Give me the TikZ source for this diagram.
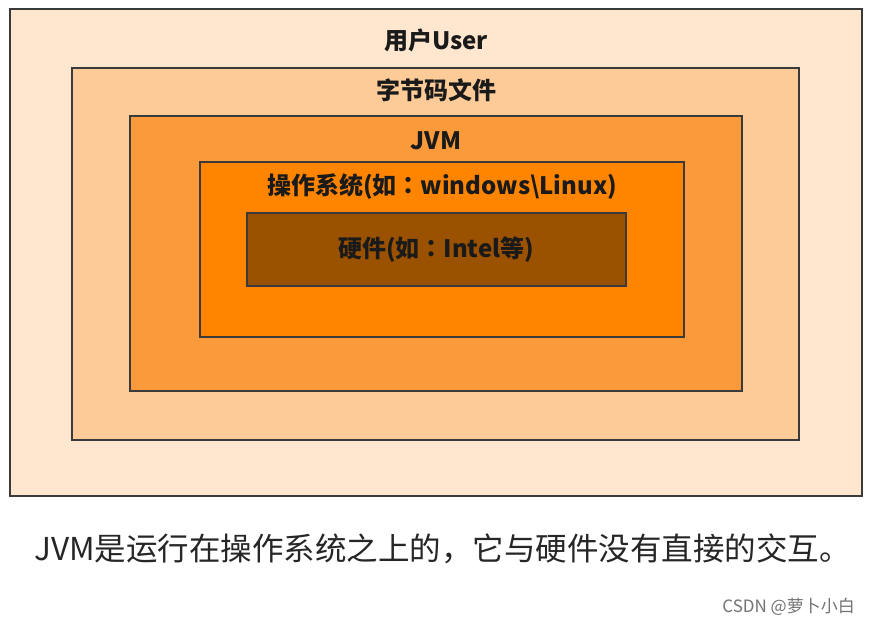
\documentclass[tikz,border=0pt]{standalone}
\usepackage{fontspec}
\setmainfont{Noto Sans CJK SC}
\newfontfamily\tcfont{Noto Sans CJK TC}
\newcommand{\fwcolon}{{\tcfont ：}}
\definecolor{c1}{HTML}{FEE6CF}
\definecolor{c2}{HTML}{FDCB98}
\definecolor{c3}{HTML}{FB9A3B}
\definecolor{c4}{HTML}{FF8400}
\definecolor{c5}{HTML}{9A5100}
\definecolor{edge}{HTML}{3A3A3A}
\definecolor{txt}{HTML}{1A1A1A}
\begin{document}
\begin{tikzpicture}[x=1pt,y=-1pt,
  layer/.style={draw=edge,line width=1.6pt},
  lbl/.style={font=\bfseries\fontsize{24}{28}\selectfont,text=txt,inner sep=0pt}]
\useasboundingbox (0,0) rectangle (869,627);
\fill[white] (0,0) rectangle (869,627);
\draw[layer,fill=c1] (10,9) rectangle (862,496);
\draw[layer,fill=c2] (72,68) rectangle (799,440);
\draw[layer,fill=c3] (130,116) rectangle (742,391);
\draw[layer,fill=c4] (200,162) rectangle (684,337);
\draw[layer,fill=c5] (247,213) rectangle (626,286);
\node[lbl] (user) at (436,40) {用户User};
\node[lbl] (bytecode) at (436,90) {字节码文件};
\node[lbl] (jvm) at (436,141) {JVM};
\node[lbl] (os) at (442,187) {操作系统(如\fwcolon windows\textbackslash Linux)};
\node[lbl] (hw) at (436,250) {硬件(如\fwcolon Intel等)};
\node[font=\fontsize{31.5}{36}\selectfont,text=black!85,inner sep=0pt,anchor=west] (cap) at (34,549) {JVM是运行在操作系统之上的，它与硬件没有直接的交互。};
\node[font=\fontsize{17}{20}\selectfont,text=black!55,inner sep=0pt,anchor=east] (wm) at (855,607) {CSDN @萝卜小白};
\end{tikzpicture}
\end{document}
